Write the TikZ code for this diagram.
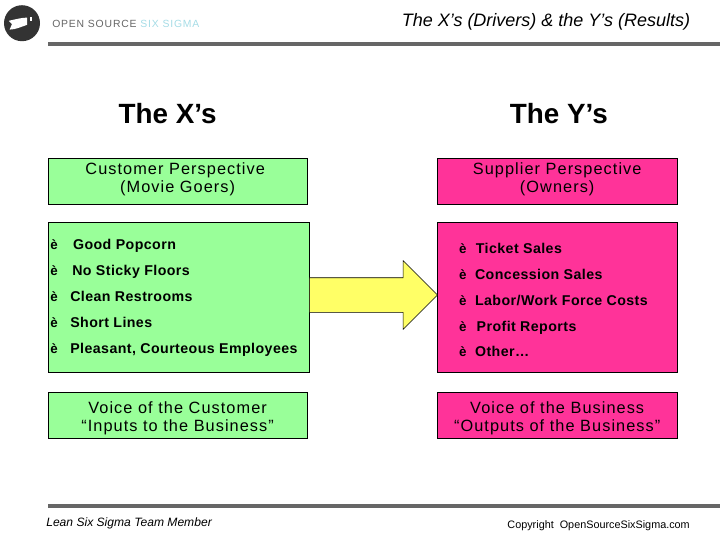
\documentclass[tikz,border=0pt]{standalone}
\usepackage{xcolor}
\usepackage{fontspec}
\setmainfont{Liberation Sans}
\usepackage{tikz}
\usetikzlibrary{arrows.meta,positioning,shapes.arrows}
\definecolor{SoftGreen}{HTML}{99FF99}
\definecolor{HotPink}{HTML}{FF3399}
\definecolor{SoftYellow}{HTML}{FFFF66}
\definecolor{RuleGray}{HTML}{666666}
\definecolor{LogoDark}{HTML}{333333}
\definecolor{LogoBlue}{HTML}{A6DCE6}
\newcommand{\liftline}{\rule[-5.3pt]{0pt}{5.3pt}}
\newcommand{\dropline}{\rule{0pt}{12.5pt}}
\begin{document}
\begin{tikzpicture}[
  hdr/.style={draw,fill=SoftGreen,minimum width=6.475cm,minimum height=1.15cm,inner sep=0pt,align=center,font=\fontsize{11.6}{12.6}\selectfont\addfontfeature{LetterSpace=6.5}},
  hdrb/.style={hdr,fill=HotPink,minimum width=6cm},
  panel/.style={draw,minimum width=6.525cm,minimum height=3.75cm},
  big/.style={font=\fontsize{19.8}{22}\selectfont\bfseries},
  item/.style={anchor=west,inner sep=0pt,text height=0.25cm,text depth=0pt,font=\fontsize{10.1}{12}\selectfont\bfseries\addfontfeature{LetterSpace=3}},
  bullet/.style={anchor=west,inner sep=0pt,text height=0.25cm,text depth=0pt,font=\fontsize{9.5}{12}\selectfont\bfseries},
  note/.style={inner sep=0pt,font=\fontsize{8.6}{10}\selectfont\itshape},
  rulebar/.style={fill=RuleGray,draw=none,inner sep=0pt,minimum height=0.1cm}
]
\useasboundingbox (0,0) rectangle (18,-13.5);
% header strip
\node[circle,fill=LogoDark,minimum size=0.9cm,inner sep=0pt] (logo) at (0.55,-0.58) {};
\fill[white] (0.22,-0.52) .. controls (0.4,-0.48) and (0.55,-0.44) .. (0.68,-0.44) -- (0.68,-0.62) .. controls (0.55,-0.66) and (0.4,-0.74) .. (0.24,-0.74) -- (0.3,-0.6) -- cycle;
\fill[white] (0.74,-0.42) rectangle (0.8,-0.52);
\node[anchor=west,inner sep=0pt,font=\fontsize{7.4}{9}\selectfont\addfontfeature{LetterSpace=8},text=RuleGray] (brand) at (1.3,-0.6) {OPEN SOURCE \textcolor{LogoBlue}{SIX SIGMA}};
\node[inner sep=0pt,font=\fontsize{12.8}{15}\selectfont\itshape] (title) at (13.65,-0.54) {The X’s (Drivers) \& the Y’s (Results)};
\node[rulebar,anchor=west,minimum width=16.8cm] (toprule) at (1.2,-1.09) {};
% columns
\node[big] (xs) at (4.19,-2.84) {The X’s};
\node[big] (ys) at (13.97,-2.84) {The Y’s};
\node[hdr] (persx) at (4.44,-4.54) {Customer Perspective\hspace*{0.12cm}\\(Movie Goers)\liftline};
\node[hdrb] (persy) at (13.93,-4.54) {Supplier Perspective\\(Owners)\liftline};
\node[panel,fill=SoftGreen] (listx) at (4.46,-7.425) {};
\node[panel,fill=HotPink,minimum width=6cm] (listy) at (13.93,-7.425) {};
\node[single arrow,draw,fill=SoftYellow,minimum height=3.2cm,minimum width=1.7cm,single arrow head extend=0.425cm,inner xsep=0pt,inner ysep=0.425cm,anchor=tail] (flow) at (listx.east) [yshift=0.05cm] {};
% drivers
\node[bullet] (mx1) at (1.25,-6.1) {è};
\node[item,right=0.37cm of mx1] (x1) {Good Popcorn};
\node[bullet] (mx2) at (1.25,-6.75) {è};
\node[item,right=0.35cm of mx2] (x2) {No Sticky Floors};
\node[bullet] (mx3) at (1.25,-7.4) {è};
\node[item,right=0.3cm of mx3] (x3) {Clean Restrooms};
\node[bullet] (mx4) at (1.25,-8.05) {è};
\node[item,right=0.3cm of mx4] (x4) {Short Lines};
\node[bullet] (mx5) at (1.25,-8.7) {è};
\node[item,right=0.3cm of mx5] (x5) {Pleasant, Courteous Employees};
% results
\node[bullet] (my1) at (11.47,-6.2) {è};
\node[item,right=0.22cm of my1] (y1) {Ticket Sales};
\node[bullet] (my2) at (11.47,-6.85) {è};
\node[item,right=0.2cm of my2] (y2) {Concession Sales};
\node[bullet] (my3) at (11.47,-7.5) {è};
\node[item,right=0.2cm of my3] (y3) {Labor/Work Force Costs};
\node[bullet] (my4) at (11.47,-8.15) {è};
\node[item,right=0.24cm of my4] (y4) {Profit Reports};
\node[bullet] (my5) at (11.47,-8.78) {è};
\node[item,right=0.2cm of my5] (y5) {Other…};
% voice boxes
\node[hdr] (voicex) at (4.44,-10.38) {\dropline Voice of the Customer\\“Inputs to the Business”};
\node[hdrb] (voicey) at (13.93,-10.38) {\dropline Voice of the Business\\“Outputs of the Business”};
% footer strip
\node[rulebar,anchor=west,minimum width=16.8cm] (botrule) at (1.2,-12.65) {};
\node[note,anchor=west] (team) at (1.15,-13.08) {Lean Six Sigma Team Member};
\node[inner sep=0pt,anchor=west,font=\fontsize{7.7}{10}\selectfont] (copy) at (12.68,-13.15) {Copyright\ \ OpenSourceSixSigma.com};
\end{tikzpicture}
\end{document}
